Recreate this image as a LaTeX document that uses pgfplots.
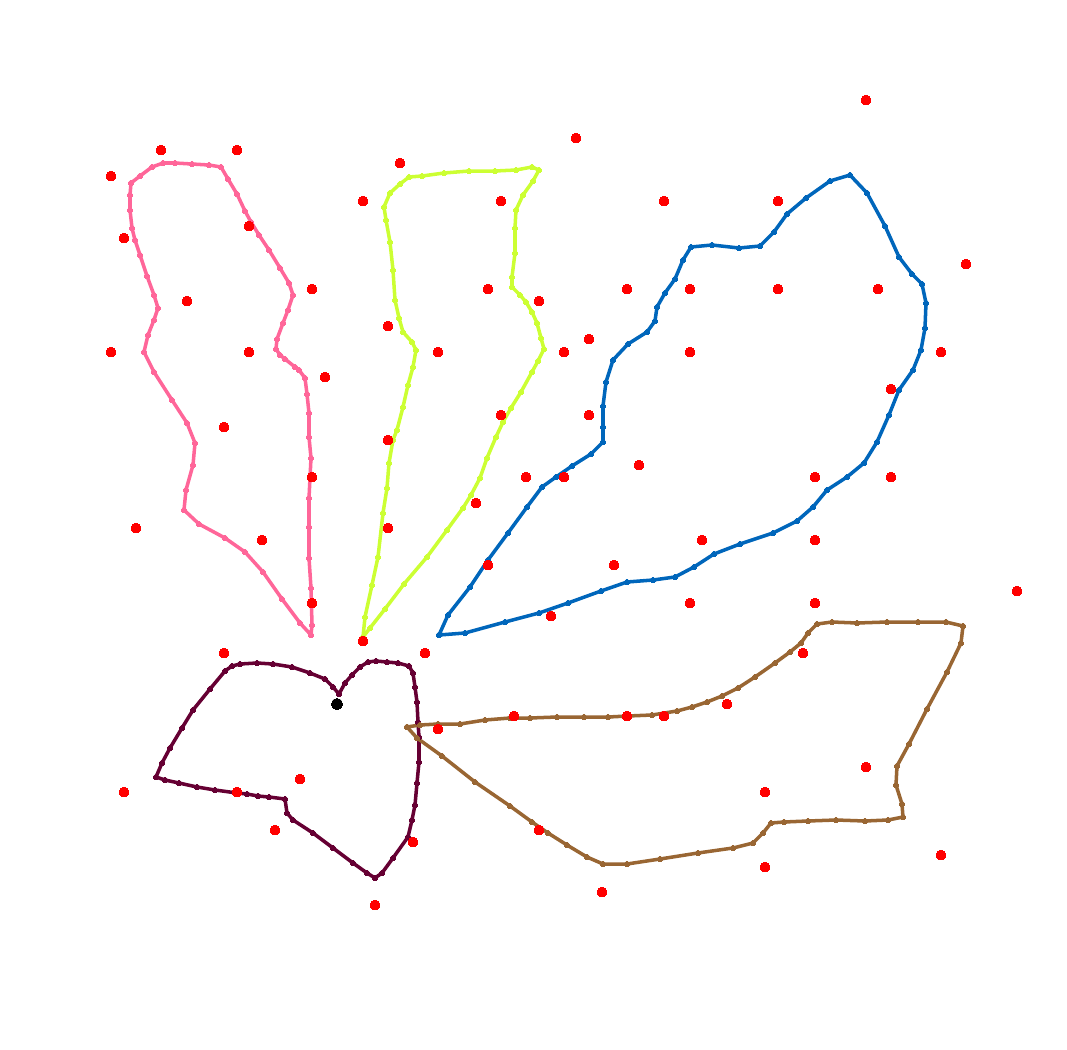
\documentclass[border=0pt]{standalone}
\usepackage{pgfplots}
\pgfplotsset{compat=1.18}
\definecolor{cpink}{RGB}{255,102,153}
\definecolor{cyel}{RGB}{204,255,51}
\definecolor{cblue}{RGB}{0,102,187}
\definecolor{cmar}{RGB}{102,0,51}
\definecolor{cbrown}{RGB}{153,102,51}
\begin{document}
\begin{tikzpicture}
\begin{axis}[
  scale only axis, width=10.67cm, height=10.5cm,
  xmin=0, xmax=1067, ymin=0, ymax=1050, y dir=reverse,
  hide axis, clip=false,
  every axis plot/.append style={line width=1.0pt, line join=round, mark=*, mark size=0.75pt, mark options={line width=0pt}},
]
% pink
\addplot[color=cpink] coordinates {
(311,635) (312,625) (311,588) (309,558) (309,527) (309,498) (311,458) (309,437) (309,413) (307,394) (305,378) (299,370) (295,367) (285,359) (280,355) (276,349) (277,339) (283,323) (288,310) (293,295) (289,283) (280,268) (269,250) (259,235) (251,222) (245,211) (237,194) (228,179) (221,167) (209,165) (192,164) (175,163) (163,163) (152,167) (140,176) (131,183) (130,195) (130,210) (132,228) (135,240) (140,255) (147,276) (154,295) (158,308) (154,320) (148,335) (144,352) (154,372) (172,400) (187,423) (195,443) (193,465) (186,490) (184,510) (199,524) (225,538) (245,552) (263,572) (282,599) (300,623) (311,635)};
% yellow-green
\addplot[color=cyel] coordinates {
(363,637) (365,617) (372,585) (378,557) (383,513) (387,488) (389,463) (393,440) (397,430) (403,407) (408,385) (413,367) (416,350) (412,342) (403,332) (399,318) (395,300) (393,270) (390,242) (386,220) (384,207) (390,193) (400,184) (409,177) (422,176) (444,173) (469,171) (495,171) (516,170) (532,167) (539,170) (533,181) (523,195) (516,210) (515,228) (515,253) (512,277) (512,287) (520,295) (526,302) (532,312) (537,323) (541,338) (544,349) (538,361) (532,372) (521,392) (511,408) (503,422) (496,437) (487,458) (480,478) (471,495) (463,508) (447,530) (427,557) (404,584) (385,609) (370,628) (363,637)};
% blue
\addplot[color=cblue] coordinates {
(439,635) (448,615) (470,587) (488,560) (508,533) (527,507) (542,487) (556,477) (572,466) (591,454) (603,442) (603,427) (603,406) (606,382) (613,360) (628,344) (647,332) (655,321) (657,307) (665,293) (675,279) (683,260) (691,247) (712,245) (739,248) (760,246) (774,232) (787,214) (806,198) (830,181) (850,175) (867,193) (885,226) (899,257) (912,274) (922,284) (926,303) (925,328) (921,350) (913,370) (899,390) (889,415) (877,442) (864,463) (847,477) (827,490) (813,507) (797,521) (773,533) (740,544) (714,554) (694,567) (675,577) (653,580) (627,582) (601,591) (568,603) (539,613) (505,622) (465,633) (439,635)};
% maroon
\addplot[color=cmar] coordinates {
(339,694) (333,687) (325,679) (310,673) (292,667) (273,664) (257,663) (240,664) (232,666) (225,671) (210,689) (193,710) (182,728) (170,748) (162,763) (156,777) (165,780) (179,783) (197,787) (215,790) (237,793) (247,794) (258,796) (269,797) (285,799) (287,813) (293,820) (313,833) (333,848) (353,863) (367,873) (375,878) (382,873) (393,858) (408,837) (412,820) (415,805) (417,783) (419,762) (419,737) (418,722) (417,702) (415,687) (413,673) (409,666) (398,663) (387,662) (376,661) (368,662) (360,667) (352,675) (345,683) (339,694)};
% brown
\addplot[color=cbrown] coordinates {
(407,727) (420,725) (438,724) (460,724) (485,720) (510,718) (530,718) (557,717) (584,717) (608,717) (628,716) (652,715) (677,711) (692,707) (707,702) (722,696) (738,688) (755,677) (775,663) (790,652) (801,643) (808,633) (817,624) (832,622) (857,623) (887,622) (918,622) (946,622) (963,626) (961,643) (947,672) (927,709) (909,744) (897,766) (896,785) (902,804) (903,817) (888,820) (865,821) (836,820) (808,821) (784,822) (771,823) (763,833) (753,843) (733,848) (698,853) (660,859) (627,864) (603,864) (587,857) (567,845) (548,833) (532,822) (510,806) (475,782) (442,756) (417,738) (407,727)};
% red points
\addplot[only marks, mark=*, mark size=1.4pt, mark options={line width=0pt}, color=red, draw=none] coordinates {
(866,100) (576,138) (161,150) (237,150) (111,176) (400,163) (363,201) (501,201) (664,201) (778,201) (124,238) (249,226) (966,264) (187,301) (312,289) (488,289) (539,301) (627,289) (690,289) (778,289) (878,289) (388,326) (589,339) (111,352) (249,352) (438,352) (564,352) (690,352) (941,352) (325,377) (891,389) (501,415) (589,415) (224,427) (388,440) (639,465) (312,477) (526,477) (564,477) (815,477) (891,477) (476,503) (136,528) (262,540) (388,528) (702,540) (815,540) (614,565) (488,565) (1017,591) (312,603) (551,616) (690,603) (815,603) (363,641) (224,653) (425,653) (803,653) (514,716) (627,716) (664,716) (727,704) (438,729) (300,779) (124,792) (237,792) (765,792) (866,767) (275,830) (539,830) (413,842) (941,855) (765,867) (602,892) (375,905)};
% black point
\addplot[only marks, mark=*, mark size=1.6pt, mark options={line width=0pt}, color=black, draw=none] coordinates {(337,704)};
\end{axis}
\pgfresetboundingbox
\path (current axis.south west) rectangle (current axis.north east);
\end{tikzpicture}
\end{document}
